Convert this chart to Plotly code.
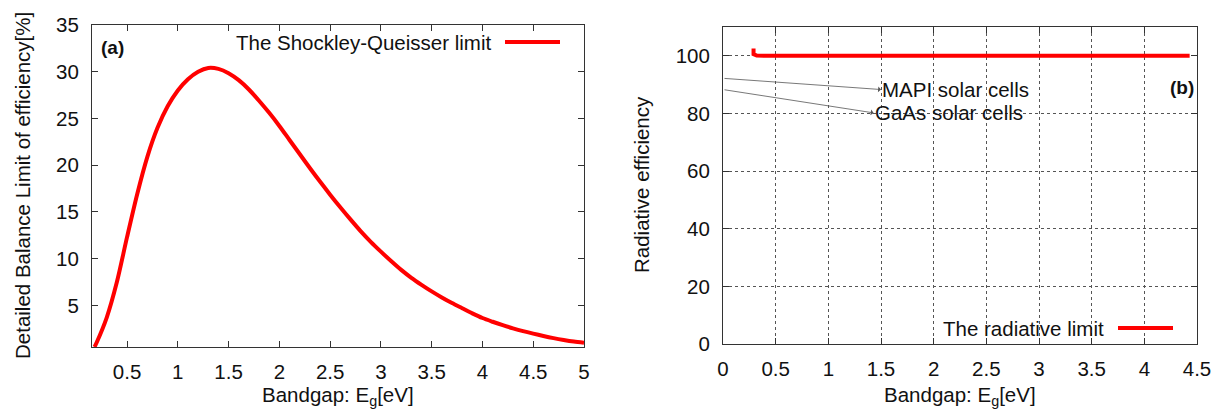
import plotly.graph_objects as go

# ---- data ----
sq_eg = [0.18, 0.2, 0.3, 0.4, 0.5, 0.6, 0.7, 0.8, 0.9, 1.0, 1.1, 1.2, 1.3, 1.4, 1.5, 1.6, 1.7, 1.8, 1.9,
         2.0, 2.1, 2.2, 2.3, 2.4, 2.5, 2.6, 2.7, 2.8, 2.9, 3.0, 3.1, 3.2, 3.3, 3.4, 3.5, 3.6, 3.7, 3.8, 3.9,
         4.0, 4.1, 4.2, 4.3, 4.4, 4.5, 4.6, 4.7, 4.8, 4.9, 5.0]
sq_eff = [0.55, 1.0, 3.7, 7.5, 12.3, 16.9, 20.9, 24.0, 26.3, 28.0, 29.2, 30.0, 30.4, 30.3, 29.85, 29.1, 28.1,
          26.9, 25.6, 24.2, 22.7, 21.2, 19.7, 18.25, 16.85, 15.5, 14.2, 12.95, 11.8, 10.75, 9.75, 8.8, 7.95,
          7.2, 6.5, 5.85, 5.25, 4.7, 4.15, 3.65, 3.25, 2.88, 2.55, 2.25, 1.98, 1.73, 1.5, 1.3, 1.13, 1.0]

rad_eg = [0.29, 0.29, 0.32, 0.4, 1.0, 2.0, 3.0, 4.0, 4.43]
rad_eff = [102.5, 100.6, 100.1, 100.0, 100.0, 100.0, 100.0, 100.0, 100.0]

mapi_arrow = {"x0": 0.0, "y0": 92.2, "x1": 1.5, "y1": 88.3}
gaas_arrow = {"x0": 0.0, "y0": 88.3, "x1": 1.43, "y1": 80.2}

W, H = 1217, 409
FONT = "Liberation Sans, Arial, sans-serif"
FS = 20.5
TXT = "#111111"
RED = "#ff0000"
AX = "#333333"

def px(x):
    return x / W

def py(y):
    return 1 - y / H

fig = go.Figure()
fig.add_trace(go.Scatter(x=sq_eg, y=sq_eff, mode="lines",
                         line=dict(color=RED, width=4, shape="spline", smoothing=0.8),
                         xaxis="x", yaxis="y", showlegend=False, name="The Shockley-Queisser limit"))
fig.add_trace(go.Scatter(x=rad_eg, y=rad_eff, mode="lines", line=dict(color=RED, width=4),
                         xaxis="x2", yaxis="y2", showlegend=False, name="The radiative limit"))

axcommon = dict(showline=True, linecolor=AX, linewidth=1, mirror="ticks", ticks="inside", ticklen=6,
                tickcolor=AX, tickfont=dict(family=FONT, size=FS, color=TXT), zeroline=False,
                automargin=False)

fig.update_layout(
    width=W, height=H, margin=dict(l=0, r=0, t=0, b=0),
    paper_bgcolor="white", plot_bgcolor="white",
    xaxis=dict(domain=[px(92), px(584)], range=[0.155, 5], tick0=0, dtick=0.5, showgrid=False,
               anchor="y", ticklabelstandoff=6, **axcommon),
    yaxis=dict(domain=[py(347), py(25)], range=[0.55, 35], tick0=0, dtick=5, showgrid=False,
               anchor="x", ticklabelstandoff=8, **axcommon),
    xaxis2=dict(domain=[px(723), px(1197)], range=[0, 4.5], tick0=0, dtick=0.5, showgrid=True,
                gridcolor="#555", griddash="dot", gridwidth=1, anchor="y2", ticklabelstandoff=6, **axcommon),
    yaxis2=dict(domain=[py(344), py(27)], range=[0, 110], tick0=0, dtick=20, showgrid=True,
                gridcolor="#555", griddash="dot", gridwidth=1, anchor="x2", ticklabelstandoff=8, **axcommon),
)

ann = []
shapes = []

def txt(text, x, y, xanchor="center", yanchor="middle", angle=0, size=FS):
    return dict(text=text, x=px(x), y=py(y), xref="paper", yref="paper", xanchor=xanchor,
                yanchor=yanchor, textangle=angle, showarrow=False,
                font=dict(family=FONT, size=size, color=TXT))

# axis titles
ann.append(txt("Bandgap: E<sub>g</sub>[eV]", 338, 396))
ann.append(txt("Bandgap: E<sub>g</sub>[eV]", 960, 396))
ann.append(txt("Detailed Balance Limit of efficiency[%]", 22, 186, angle=-90))
ann.append(txt("Radiative efficiency", 642, 185, angle=-90))
# panel labels
ann.append(txt("<b>(a)</b>", 99, 48, xanchor="left", size=19))
ann.append(txt("<b>(b)</b>", 1196, 87, xanchor="right", size=19))
# legend (a)
ann.append(txt("The Shockley-Queisser limit", 493, 42, xanchor="right"))
shapes.append(dict(type="line", x0=px(505), x1=px(560), y0=py(42), y1=py(42), xref="paper", yref="paper",
                   line=dict(color=RED, width=4)))
# legend (b)
shapes.append(dict(type="rect", x0=px(860), x1=px(1196), y0=py(343), y1=py(318), xref="paper", yref="paper",
                   fillcolor="white", line=dict(width=0), layer="between"))
ann.append(txt("The radiative limit", 1106, 328, xanchor="right"))
shapes.append(dict(type="line", x0=px(1118), x1=px(1173), y0=py(328), y1=py(328), xref="paper", yref="paper",
                   line=dict(color=RED, width=4)))
# arrows with labels
for arr, label in [(mapi_arrow, "MAPI solar cells"), (gaas_arrow, "GaAs solar cells")]:
    ann.append(dict(x=arr["x1"], y=arr["y1"], ax=arr["x0"], ay=arr["y0"], xref="x2", yref="y2",
                    axref="x2", ayref="y2", text="", showarrow=True, arrowhead=1, arrowsize=1.2,
                    arrowwidth=0.8, arrowcolor="#555"))
    ann.append(dict(x=arr["x1"], y=arr["y1"], xref="x2", yref="y2", text=label, xanchor="left",
                    yanchor="middle", showarrow=False, xshift=-1,
                    font=dict(family=FONT, size=FS, color=TXT)))

fig.update_layout(annotations=ann, shapes=shapes)
fig.write_html("out.html")
